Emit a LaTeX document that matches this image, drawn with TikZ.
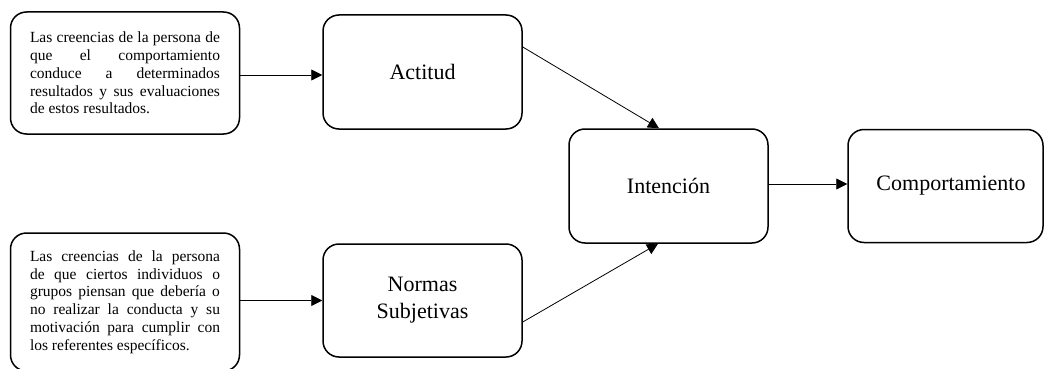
\documentclass[tikz,border=0pt]{standalone}
\usepackage{fontspec}
\setmainfont{Liberation Serif}
\usetikzlibrary{arrows.meta}

% one line of justified text, spread to the full column width
\newcommand{\jline}[1]{\makebox[190pt][s]{#1}}

\begin{document}
\begin{tikzpicture}[x=1pt,y=-1pt,
  box/.style={draw, line width=1.5pt, rounded corners=16pt, align=center, inner sep=0pt},
  notebox/.style={box, font=\fontsize{15.5}{17.8}\selectfont, align=left},
  bigbox/.style={box, font=\fontsize{22}{27}\selectfont},
  link/.style={line width=0.8pt, -{Triangle[length=11pt,width=11pt]}}
]
\useasboundingbox (0,0) rectangle (1044,369);

% belief notes on the left
\node[notebox, minimum width=229pt, minimum height=122pt] (bel1) at (125,73)
  {\jline{Las creencias de la persona de}\\
   \jline{que el comportamiento}\\
   \jline{conduce a determinados}\\
   \jline{resultados y sus evaluaciones}\\
   de estos resultados.};
\node[notebox, minimum width=229pt, minimum height=138pt] (bel2) at (125,302)
  {\jline{Las creencias de la persona}\\
   \jline{de que ciertos individuos o}\\
   \jline{grupos piensan que debería o}\\
   \jline{no realizar la conducta y su}\\
   \jline{motivación para cumplir con}\\
   los referentes específicos.};

% model components
\node[bigbox, minimum width=199pt, minimum height=114pt] (act) at (422.5,72) {Actitud};
\node[bigbox, minimum width=199pt, minimum height=113pt] (nor) at (422.5,300.5) {Normas\\Subjetivas};
\node[bigbox, minimum width=199pt, minimum height=114pt] (int) at (668.5,186) {Intención};
\node[bigbox, minimum width=195pt, minimum height=113pt] (com) at (945.5,186) {\hspace*{11pt}Comportamiento};

% connectors
\draw[link] (bel1.east |- 0,75) -- (act.west |- 0,75);
\draw[link] (bel2.east |- nor.west) -- (nor.west);
\draw[link] ([yshift=25pt]act.east) -- ([xshift=-9.5pt]int.north);
\draw[link] ([yshift=-21.5pt]nor.east) -- ([xshift=-10.5pt]int.south);
\draw[link] ([yshift=2pt]int.east) -- ([yshift=2pt]com.west);
\end{tikzpicture}
\end{document}
